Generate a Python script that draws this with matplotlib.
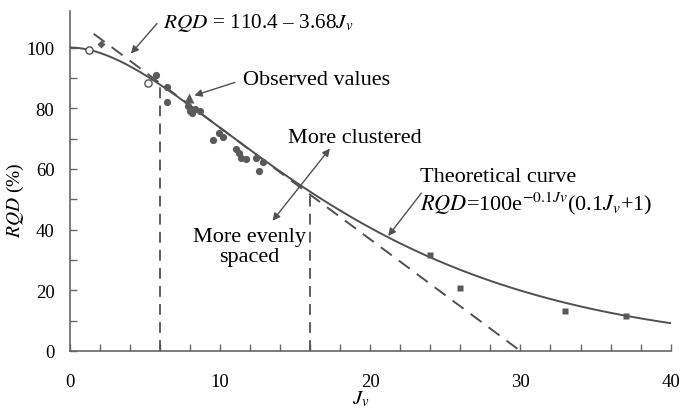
import numpy as np
import matplotlib
matplotlib.use("Agg")
import matplotlib.pyplot as plt

# ---- data ----
circle_x = [5.74, 6.45, 6.45, 7.89, 8.11, 8.34, 8.67, 7.99, 9.55, 9.92, 10.2,
            11.05, 11.3, 11.38, 11.75, 12.4, 12.85, 12.6]
circle_y = [91.1, 87.1, 82.0, 80.7, 78.5, 79.6, 79.0, 79.0, 69.6, 71.8, 70.4,
            66.7, 65.4, 63.6, 63.4, 63.6, 62.4, 59.4]
open_x = [1.30, 5.21]
open_y = [99.1, 88.2]
diamond_x = [2.06]
diamond_y = [101.0]
triangle_x = [7.94]
triangle_y = [83.4]
square_x = [24.0, 26.0, 32.95, 37.0]
square_y = [31.6, 20.6, 13.3, 11.6]

# theoretical curve RQD = A e^{-k Jv}(k Jv + 1)
curve_A, curve_k = 100.0, 0.1
curve_range = [0, 40]
# linear fit RQD = a - b Jv
lin_a, lin_b = 110.4, 3.68
lin_range = [1.6, lin_a / lin_b]
vline_x = [6, 16]

xticks_major = [0, 10, 20, 30, 40]
yticks_major = [0, 20, 40, 60, 80, 100]

# ---- style ----
plt.rcParams['font.family'] = ['Liberation Serif', 'DejaVu Serif']
plt.rcParams['mathtext.fontset'] = 'stix'
FS = 13.5
FA = 16
gray = '#505050'
mk = '#5a5a5a'

fig = plt.figure(figsize=(6.83, 4.10), dpi=100)
ax = fig.add_axes([0.102, 0.1415, 0.880, 0.829])

def theo(j):
    j = np.asarray(j, dtype=float)
    return curve_A * np.exp(-curve_k * j) * (curve_k * j + 1)

jj = np.linspace(curve_range[0], curve_range[1], 400)
ax.plot(jj, theo(jj), color=gray, lw=1.4, zorder=3)

lx = np.array(lin_range)
ax.plot(lx, lin_a - lin_b * lx, color=gray, lw=1.4, ls=(0, (7, 4.5)), zorder=2)

for vx in vline_x:
    ax.plot([vx, vx], [0, float(theo(vx))], color=gray, lw=1.3,
            ls=(0, (6, 4)), zorder=2)

ax.plot(circle_x, circle_y, 'o', color=mk, ms=5.2, mec='none', zorder=4)
ax.plot(open_x, open_y, 'o', mfc='white', mec=gray, mew=1.0, ms=5.2, zorder=4)
ax.plot(diamond_x, diamond_y, 'D', color=mk, ms=4.5, mec='none', zorder=4)
ax.plot(triangle_x, triangle_y, '^', color=mk, ms=7, mec='none', zorder=4)
ax.plot(square_x, square_y, 's', color=mk, ms=4.8, mec='none', zorder=4)

ax.set_xlim(0, 40)
ax.set_ylim(0, 112)
ax.set_xticks(xticks_major)
ax.set_xticks(np.arange(0, 41, 2), minor=True)
ax.set_yticks(yticks_major)
ax.set_yticks(np.arange(0, 101, 10), minor=True)
for s in ['top', 'right']:
    ax.spines[s].set_visible(False)
for s in ['left', 'bottom']:
    ax.spines[s].set_color('#666666')
    ax.spines[s].set_linewidth(1.2)
ax.tick_params(axis='both', which='both', direction='in', color='#666666',
               width=1.0, labelsize=FS)
ax.tick_params(axis='both', which='major', length=5)
ax.tick_params(axis='both', which='minor', length=5)
ax.tick_params(axis='x', which='major', pad=16)
ax.tick_params(axis='y', which='major', pad=11)

ax.set_xlabel(r'$J_v$', fontsize=FS + 1.5)
ax.xaxis.set_label_coords(0.484, -0.112)
ax.set_ylabel(r'$RQD$ (%)', fontsize=FS + 0.5)
ax.yaxis.set_label_coords(-0.072, 0.447)

arrow = dict(arrowstyle='-|>', color=gray, lw=1.0, mutation_scale=11,
             shrinkA=0, shrinkB=0)

ax.text(6.2, 108.4, r'$RQD$ = 110.4 – 3.68$J_v$', fontsize=15.3,
        va='center', ha='left')
ax.annotate('', xy=(4.08, 98.0), xytext=(5.81, 107.9), arrowprops=arrow)

ax.text(11.55, 89.5, 'Observed values', fontsize=FA, va='center', ha='left')
ax.annotate('', xy=(8.3, 84.2), xytext=(11.0, 88.5), arrowprops=arrow)

ax.text(19.0, 70.4, 'More clustered', fontsize=FA, va='center', ha='center')
ax.text(11.95, 34.4, 'More evenly\nspaced', fontsize=FA, va='center',
        ha='center', linespacing=1.1)
ax.annotate('', xy=(17.32, 66.7), xytext=(13.5, 42.9),
            arrowprops=dict(arrowstyle='<|-|>', color=gray, lw=1.0,
                            mutation_scale=11, shrinkA=0, shrinkB=0))

ax.text(23.3, 57.6, 'Theoretical curve', fontsize=FA, va='center', ha='left')
ax.text(23.3, 49.0, r'$RQD$=100e$^{-0.1Jv}$(0.1$J_v$+1)', fontsize=FA,
        va='center', ha='left')
ax.annotate('', xy=(21.2, 37.9), xytext=(23.4, 52.0), arrowprops=arrow)

fig.savefig('out.png', dpi=100)
